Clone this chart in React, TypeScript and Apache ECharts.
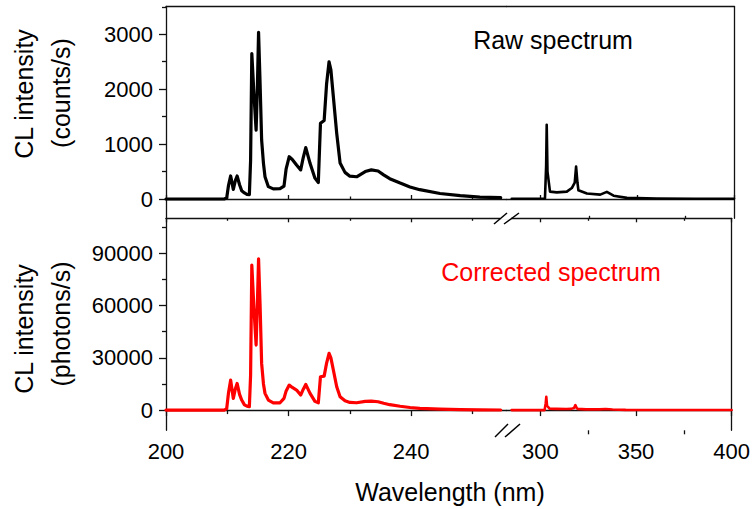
import React, { useEffect, useRef } from "react";
import * as echarts from "echarts";

// Wavelengths (nm) of the sampled points, left segment (200–255 nm) and right segment (285–400 nm)
const leftWavelengths = [200, 205, 209.5, 209.9, 210.2, 210.55, 210.98, 211.3, 211.6, 212.0, 212.35, 212.8, 213.2, 213.6, 213.8, 214.0, 214.35, 214.7, 214.9, 215.1, 215.35, 215.6, 215.9, 216.15, 216.7, 217.5, 218.6, 219.25, 219.6, 220.1, 220.6, 221.3, 221.97, 222.4, 222.8, 223.5, 224.3, 224.85, 225.2, 225.8, 226.2, 226.6, 226.9, 227.3, 227.85, 228.4, 229.2, 230.0, 231.1, 232.5, 233.5, 234.6, 235.5, 236.5, 238.2, 239.8, 241.4, 244.7, 248, 251.2, 254.6];
const rawLeft = [0, 0, 0, 20, 250, 420, 175, 330, 420, 260, 150, 110, 85, 80, 700, 2650, 1900, 1255, 2000, 3035, 2100, 1075, 650, 405, 225, 185, 190, 235, 550, 770, 720, 620, 530, 760, 935, 650, 380, 300, 1380, 1430, 2100, 2500, 2350, 1865, 1195, 655, 485, 415, 405, 500, 530, 510, 440, 370, 290, 220, 170, 100, 60, 35, 25];
const correctedLeft = [0, 0, 0, 800, 10000, 17200, 6700, 12000, 15300, 9000, 5750, 3000, 2300, 2000, 20000, 83300, 58000, 37350, 60000, 86800, 60000, 26800, 15000, 9600, 5750, 4200, 4200, 6700, 11000, 14370, 13000, 11500, 8600, 12000, 14750, 9600, 5000, 4200, 19150, 19500, 27000, 32570, 30000, 23000, 13400, 7660, 5360, 4400, 4200, 5000, 5200, 4800, 3900, 3100, 2200, 1500, 1000, 500, 250, 120, 60];

const rightWavelengths = [285, 295, 302.2, 302.8, 303.1, 303.5, 304.8, 308.3, 313.5, 316.1, 317.6, 318.3, 319.0, 319.5, 323.9, 330.8, 334.2, 337.7, 344.6, 360, 380, 400];
const rawRight = [5, 5, 10, 600, 1350, 500, 135, 120, 135, 200, 300, 590, 300, 160, 100, 80, 130, 60, 20, 10, 5, 5];
const correctedRight = [0, 0, 0, 4000, 7660, 2500, 800, 700, 600, 700, 1200, 2870, 1200, 700, 400, 400, 600, 300, 100, 50, 30, 20];

// Tick labels
const leftXTicks = [200, 220, 240];
const leftXMinor = [210, 230, 250];
const rightXTicks = [300, 350, 400];
const rightXMinor = [325, 375];
const rawYTicks = [0, 1000, 2000, 3000];
const rawYMinor = [500, 1500, 2500, 3500];
const corrYTicks = [0, 30000, 60000, 90000];
const corrYMinor = [15000, 45000, 75000, 105000];

const FONT = '"Liberation Sans", Arial, Helvetica, sans-serif';
const AXIS_COLOR = "#111";

const pairs = (xs: number[], ys: number[]) => xs.map((x, i) => [x, ys[i]]);

export default function App() {
  const ref = useRef<HTMLDivElement>(null);
  useEffect(() => {
    if (!ref.current) return;
    const chart = echarts.init(ref.current, undefined, { renderer: "svg" });

    const L = 166, B = 506.7, R = 734, T = 6.5, M = 218.3, BOT = 430.3;
    const grids = [
      { left: L, top: T, width: B - L, height: M - T },
      { left: B, top: T, width: R - B, height: M - T },
      { left: L, top: M, width: B - L, height: BOT - M },
      { left: B, top: M, width: R - B, height: BOT - M },
    ];
    const leftRange = { min: 200, max: 255.58 };
    const rightRange = { min: 282.4, max: 400 };
    const rawRange = { min: -351.5, max: 3506 };
    const corrRange = { min: -11600, max: 110100 };

    const line = { show: true, lineStyle: { color: AXIS_COLOR, width: 1.3 } };
    const noLine = { show: false };
    const fmt = (v: number) => String(Math.round(v));
    const mkX = (grid: number, range: any, position: string, opts: any) => ({
      type: "value",
      gridIndex: grid,
      position,
      ...range,
      splitLine: { show: false },
      axisLine: opts.line ? line : noLine,
      axisTick: opts.ticks
        ? { show: true, customValues: opts.ticks, inside: !!opts.inside, length: opts.len, lineStyle: { color: AXIS_COLOR, width: 1.3 } }
        : { show: false },
      axisLabel: opts.labels
        ? { show: true, customValues: opts.ticks, formatter: fmt, fontSize: 22, fontFamily: FONT, color: "#000", margin: 10 }
        : { show: false },
    });
    const mkY = (grid: number, range: any, position: string, opts: any) => ({
      type: "value",
      gridIndex: grid,
      position,
      ...range,
      splitLine: { show: false },
      axisLine: opts.line ? line : noLine,
      axisTick: opts.ticks
        ? { show: true, customValues: opts.ticks, inside: false, length: opts.len, lineStyle: { color: AXIS_COLOR, width: 1.3 } }
        : { show: false },
      axisLabel: opts.labels
        ? { show: true, customValues: opts.ticks, formatter: fmt, fontSize: 22, fontFamily: FONT, color: "#000", margin: 13 }
        : { show: false },
    });

    const xAxis = [
      // grid 0 (upper-left)
      mkX(0, leftRange, "bottom", { line: true, ticks: leftXTicks, inside: true, len: 4 }),
      mkX(0, leftRange, "bottom", { ticks: leftXMinor, inside: true, len: 2.5 }),
      mkX(0, leftRange, "top", { line: true }),
      // grid 1 (upper-right)
      mkX(1, rightRange, "bottom", { line: true, ticks: rightXTicks, inside: true, len: 4 }),
      mkX(1, rightRange, "bottom", { ticks: rightXMinor, inside: true, len: 2.5 }),
      mkX(1, rightRange, "top", { line: true }),
      // grid 2 (lower-left)
      mkX(2, leftRange, "bottom", { line: true, ticks: leftXTicks, len: 6, labels: true }),
      mkX(2, leftRange, "bottom", { ticks: leftXMinor, len: 4 }),
      mkX(2, leftRange, "top", { line: true, ticks: leftXTicks, inside: true, len: 4 }),
      mkX(2, leftRange, "top", { ticks: leftXMinor, inside: true, len: 2.5 }),
      // grid 3 (lower-right)
      mkX(3, rightRange, "bottom", { line: true, ticks: rightXTicks, len: 6, labels: true }),
      mkX(3, rightRange, "bottom", { ticks: rightXMinor, len: 4 }),
      mkX(3, rightRange, "top", { line: true, ticks: rightXTicks, inside: true, len: 4 }),
      mkX(3, rightRange, "top", { ticks: rightXMinor, inside: true, len: 2.5 }),
    ];
    const yAxis = [
      mkY(0, rawRange, "left", { line: true, ticks: rawYTicks, len: 7, labels: true }),
      mkY(0, rawRange, "left", { ticks: rawYMinor, len: 4 }),
      mkY(1, rawRange, "right", { line: true }),
      mkY(2, corrRange, "left", { line: true, ticks: corrYTicks, len: 7, labels: true }),
      mkY(2, corrRange, "left", { ticks: corrYMinor, len: 4 }),
      mkY(3, corrRange, "right", { line: true }),
    ];

    const lineSeries = (data: number[][], xi: number, yi: number, color: string, width: number) => ({
      type: "line",
      xAxisIndex: xi,
      yAxisIndex: yi,
      data,
      showSymbol: false,
      symbol: "none",
      smooth: false,
      lineStyle: { color, width, join: "round", cap: "round" },
      z: 3,
    });

    const slash = (x1: number, y1: number, x2: number, y2: number) => ({
      type: "line",
      shape: { x1, y1, x2, y2 },
      style: { stroke: "#000", lineWidth: 1.5 },
      z: 20,
    });
    const gap = (y: number) => ({
      type: "rect",
      shape: { x: 500, y: y - 1.5, width: 11, height: 3 },
      style: { fill: "#fff" },
      z: 19,
    });
    const txt = (text: string, x: number, y: number, opts: any = {}) => ({
      type: "text",
      x,
      y,
      rotation: opts.rotation || 0,
      z: 20,
      style: {
        text,
        fontSize: opts.size || 25,
        fontFamily: FONT,
        fill: opts.color || "#000",
        align: "center",
        verticalAlign: "middle",
        textAlign: "center",
        textVerticalAlign: "middle",
      },
    });

    chart.setOption({
      animation: false,
      backgroundColor: "#fff",
      grid: grids,
      xAxis,
      yAxis,
      series: [
        lineSeries(pairs(leftWavelengths, rawLeft), 0, 0, "#000", 3.2),
        lineSeries(pairs(rightWavelengths, rawRight), 3, 2, "#000", 2.6),
        lineSeries(pairs(leftWavelengths, correctedLeft), 6, 3, "#ff0000", 3.2),
        lineSeries(pairs(rightWavelengths, correctedRight), 10, 5, "#ff0000", 2.6),
      ],
      graphic: [
        gap(M),
        gap(BOT),
        slash(494, 224, 507, 213),
        slash(504, 224, 519, 213),
        slash(495, 437, 508, 424),
        slash(505, 437, 520, 424),
        txt("CL intensity", 24, 94, { rotation: Math.PI / 2 }),
        txt("(counts/s)", 61, 93, { rotation: Math.PI / 2 }),
        txt("CL intensity", 24, 329, { rotation: Math.PI / 2 }),
        txt("(photons/s)", 61, 324, { rotation: Math.PI / 2 }),
        txt("Wavelength (nm)", 450, 492, { size: 25 }),
        txt("Raw spectrum", 553, 40),
        txt("Corrected spectrum", 551, 272, { color: "#ff0000" }),
      ],
    });
    return () => chart.dispose();
  }, []);
  return (
    <div
      ref={ref}
      style={{ position: "fixed", left: 0, top: 0, width: 753, height: 509, background: "#fff" }}
    />
  );
}
